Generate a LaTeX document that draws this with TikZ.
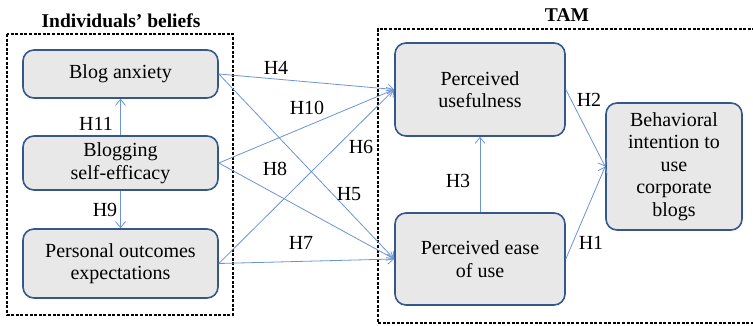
\documentclass[tikz,border=0pt]{standalone}
\usepackage{fontspec}
\setmainfont{Liberation Serif}
\usetikzlibrary{arrows.meta}
\definecolor{boxedge}{RGB}{52,88,140}
\definecolor{boxfill}{RGB}{232,232,232}
\definecolor{hypline}{RGB}{108,148,212}
\def\BeliefsFrame{(7,34) rectangle (233,315)}
\def\TamFrame{(760,29) -- (378,29) -- (378,323) -- (760,323)}

\begin{document}
\begin{tikzpicture}[x=1pt,y=-1pt,
    construct/.style={draw=boxedge,fill=boxfill,line width=1.6pt,rounded corners=11pt,
      align=center,inner sep=0pt,font=\rmfamily\fontsize{20}{22.5}\selectfont},
    hyp/.style={draw=hypline,line width=0.8pt,-{Straight Barb[length=6pt,width=10pt]}},
    hlabel/.style={font=\rmfamily\fontsize{20}{22}\selectfont,inner sep=1pt},
    frame/.style={draw=black,line width=1.3pt,dash pattern=on 3pt off 1.6pt}]
    \useasboundingbox (0,0) rectangle (753,326);
    \begin{scope}
      \draw[frame] \BeliefsFrame;
      \draw[frame] \TamFrame;
      \node[font=\rmfamily\fontsize{19.5}{22}\selectfont\bfseries] (beliefs) at (121,21) {Individuals’ beliefs};
      \node[font=\rmfamily\fontsize{19.5}{22}\selectfont\bfseries] (tam) at (567,15) {TAM};
    \end{scope}
    % individuals' beliefs
    \node[construct,minimum width=195pt,minimum height=48pt] (ba) at (120.5,74) {Blog anxiety};
    \node[construct,minimum width=195pt,minimum height=54pt] (bse) at (120.5,163) {Blogging\\self-efficacy};
    \node[construct,minimum width=195pt,minimum height=69pt] (poe) at (120.5,263.5) {Personal outcomes\\expectations};
    % TAM
    \node[construct,minimum width=170pt,minimum height=93pt] (pu) at (480,89.5) {Perceived\\usefulness};
    \node[construct,minimum width=170pt,minimum height=92pt] (peou) at (480,259) {Perceived ease\\of use};
    \node[construct,minimum width=136pt,minimum height=127pt] (bi) at (674,166.5) {Behavioral\\intention to\\use\\corporate\\blogs};
    % hypotheses
    \draw[hyp] (ba.east) -- (pu.west);
    \draw[hyp] (ba.east) -- (peou.west);
    \draw[hyp] (bse.east) -- (pu.west);
    \draw[hyp] (bse.east) -- (peou.west);
    \draw[hyp] (poe.east) -- (pu.west);
    \draw[hyp] (poe.east) -- (peou.west);
    \draw[hyp] (bse.north) -- (ba.south);
    \draw[hyp] (bse.south) -- (poe.north);
    \draw[hyp] (peou.north) -- (pu.south);
    \draw[hyp] (pu.east) -- (bi.west);
    \draw[hyp] (peou.east) -- (bi.west);
    \node[hlabel] (h4) at (276,68) {H4};
    \node[hlabel] (h10) at (307,108) {H10};
    \node[hlabel] (h6) at (361,147) {H6};
    \node[hlabel] (h8) at (275,169) {H8};
    \node[hlabel] (h5) at (349,194) {H5};
    \node[hlabel] (h7) at (301,243) {H7};
    \node[hlabel] (h11) at (96,124) {H11};
    \node[hlabel] (h9) at (105,210) {H9};
    \node[hlabel] (h3) at (458,181) {H3};
    \node[hlabel] (h2) at (589,100) {H2};
    \node[hlabel] (h1) at (591,243) {H1};
\end{tikzpicture}
\end{document}
